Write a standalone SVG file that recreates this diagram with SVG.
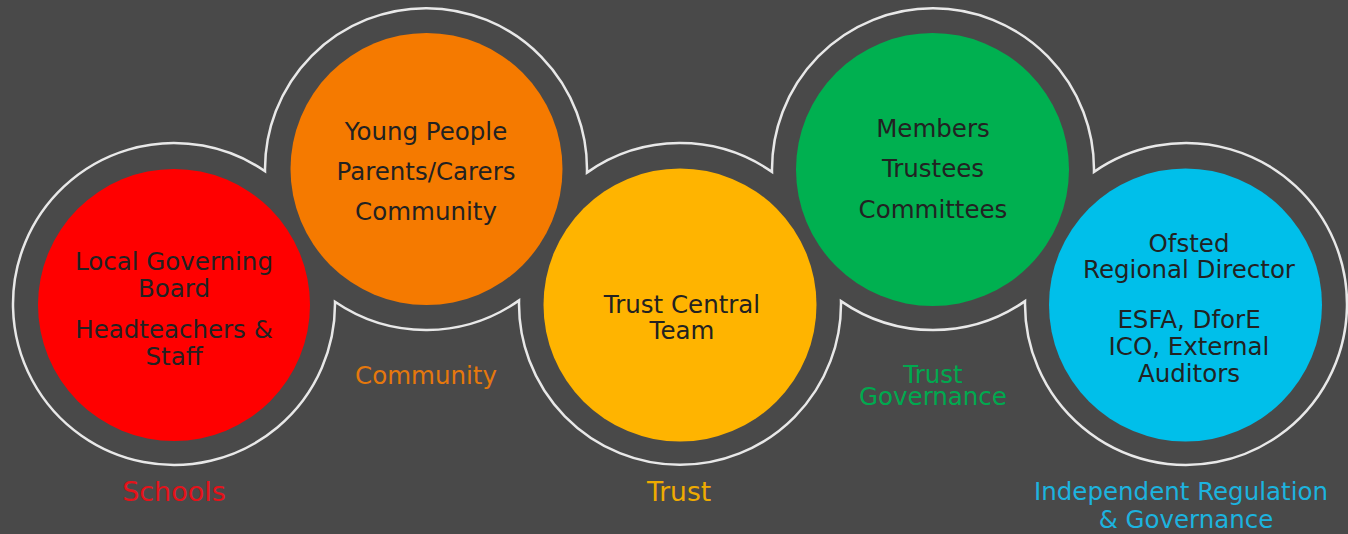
<svg xmlns="http://www.w3.org/2000/svg" width="1348" height="534" viewBox="0 0 1348 534">
<style>
.t{font-family:"DejaVu Sans",Verdana,sans-serif;font-size:24.5px;fill:#222;text-anchor:middle}
.l{font-family:"DejaVu Sans",Verdana,sans-serif;font-size:24.5px;text-anchor:middle}
.ring{fill:none;stroke:#e8e8e8;stroke-width:2.5}
</style>
<rect width="1348" height="534" fill="#494949"/>
<g id="connectors">
<path class="ring" d="M265.01,171.19 A161,161 0 1 1 586.96,172.61 A161,161 0 0 1 772.02,171.90 A161,161 0 1 1 1093.98,171.90 A161,161 0 1 1 1025.02,301.10 A161,161 0 0 1 840.98,301.10 A161,161 0 1 1 519.04,300.39 A161,161 0 0 1 334.99,301.81 A161,161 0 1 1 265.01,171.19 Z"/>
</g>
<g id="schools">
<circle cx="174" cy="305" r="136" fill="#ff0000"/>
<text class="t" x="174" y="270">Local Governing</text>
<text class="t" x="174" y="297">Board</text>
<text class="t" x="174" y="338">Headteachers &amp;</text>
<text class="t" x="174" y="365">Staff</text>
<text class="l" x="174" y="501" fill="#e5121a" style="font-size:27px">Schools</text>
</g>
<g id="community">
<circle cx="426.5" cy="169" r="136" fill="#f57a00"/>
<text class="t" x="426" y="140">Young People</text>
<text class="t" x="426" y="180">Parents/Carers</text>
<text class="t" x="426" y="220">Community</text>
<text class="l" x="426" y="384" fill="#e5780c">Community</text>
</g>
<g id="trust">
<circle cx="680" cy="305" r="136.5" fill="#ffb400"/>
<text class="t" x="682" y="313">Trust Central</text>
<text class="t" x="682" y="339">Team</text>
<text class="l" x="679" y="501" fill="#efab00" style="font-size:26.5px">Trust</text>
</g>
<g id="governance">
<circle cx="932.5" cy="169.5" r="136.5" fill="#00b050"/>
<text class="t" x="933" y="137">Members</text>
<text class="t" x="933" y="177">Trustees</text>
<text class="t" x="933" y="218">Committees</text>
<text class="l" x="933" y="383" fill="#00a94f">Trust</text>
<text class="l" x="933" y="405" fill="#00a94f">Governance</text>
</g>
<g id="regulation">
<circle cx="1185.5" cy="305" r="136.5" fill="#00bfea"/>
<text class="t" x="1189" y="252">Ofsted</text>
<text class="t" x="1189" y="278">Regional Director</text>
<text class="t" x="1189" y="328">ESFA, DforE</text>
<text class="t" x="1189" y="355">ICO, External</text>
<text class="t" x="1189" y="382">Auditors</text>
<text class="l" x="1181" y="500" fill="#1cb3df">Independent Regulation</text>
<text class="l" x="1186" y="528" fill="#1cb3df">&amp; Governance</text>
</g>
</svg>
